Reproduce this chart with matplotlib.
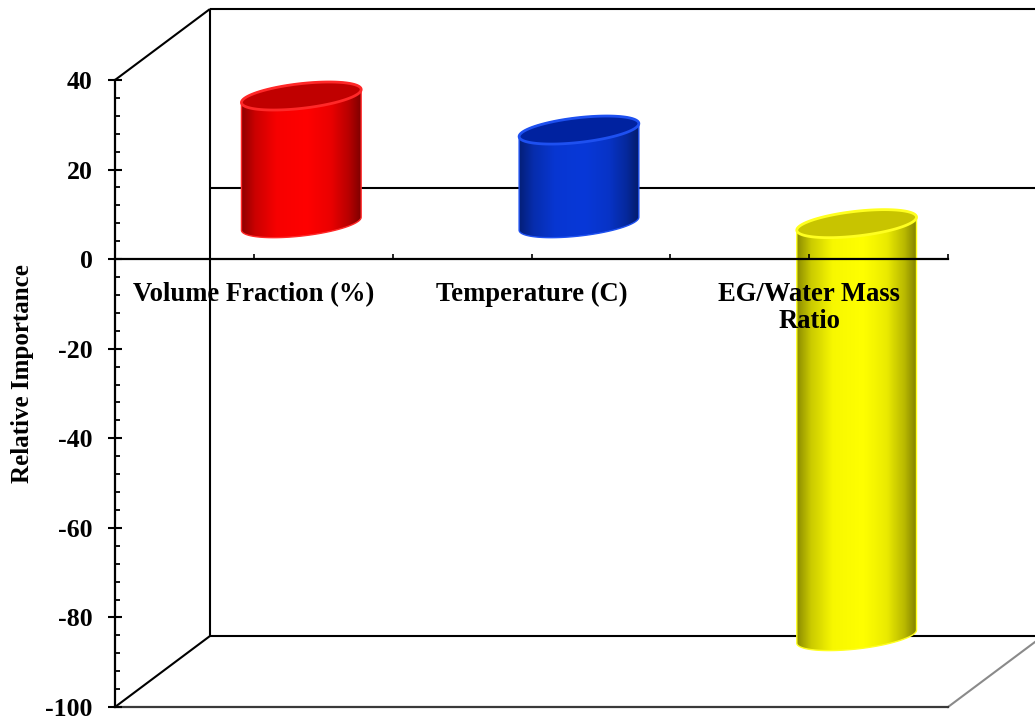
import numpy as np
import matplotlib
matplotlib.use("Agg")
import matplotlib.pyplot as plt
from matplotlib.patches import Polygon
from matplotlib.colors import LinearSegmentedColormap, to_rgb
from matplotlib.ticker import MultipleLocator

# ---- data -------------------------------------------------------------
factors = ["Volume Fraction (%)", "Temperature (C)", "EG/Water Mass\nRatio"]
importance = [28.5, 20.9, -92.2]
body_colors = ["#FF0000", "#0838D8", "#FFFF00"]
cap_colors = ["#C00000", "#0022A0", "#C8C400"]
rim_colors = ["#FF2828", "#1E50F0", "#FFFF20"]
y_major = [-100, -80, -60, -40, -20, 0, 20, 40]

# ---- figure -----------------------------------------------------------
plt.rcParams["font.family"] = ["Liberation Serif", "DejaVu Serif"]
plt.rcParams["font.weight"] = "bold"
plt.rcParams["axes.unicode_minus"] = False

W, H = 1035, 717
fig = plt.figure(figsize=(W / 100, H / 100), dpi=100)
ax = fig.add_axes([115 / W, 10 / H, 833 / W, 627 / H])
ax.set_xlim(0, 3)
ax.set_ylim(-100, 40)
ax.patch.set_alpha(0)

# depth of the 3-D box, in data units (x: categories, y: value)
DX, DY = 0.342, 15.85
YMIN, YMAX = -100, 40
XMAX = 3

# ---- walls / floor ----------------------------------------------------
wall = dict(color="black", lw=1.5, clip_on=False, zorder=1, solid_capstyle="butt")
ax.plot([0, DX], [YMAX, YMAX + DY], **wall)
ax.plot([DX, XMAX + DX + 1], [YMAX + DY, YMAX + DY], **wall)
ax.plot([0, DX], [YMIN, YMIN + DY], **wall)
ax.plot([DX, XMAX + DX + 1], [YMIN + DY, YMIN + DY], **wall)
ax.plot([DX, XMAX + DX + 1], [DY, DY], **wall)
ax.plot([DX, DX], [YMIN + DY, YMAX + DY], **{**wall, "zorder": 4})
ax.plot([XMAX, XMAX + DX], [YMIN, YMIN + DY], color="#8a8a8a", lw=1.5,
        clip_on=False, zorder=1)
ax.plot([0, XMAX], [YMIN, YMIN], color="#3a3a3a", lw=1.6, clip_on=False, zorder=1)

# ---- cylinders --------------------------------------------------------
R = 0.191          # radius across the category axis
KX = 0.100         # horizontal lean of the end ellipse
HY = 3.13          # vertical half-height of the end ellipse
t0 = np.arctan2(KX, R)
ext = np.hypot(R, KX)

profile_pos = [0.0, 0.12, 0.3, 0.55, 0.75, 0.9, 1.0]
profile_val = [0.55, 0.8, 0.97, 1.0, 0.92, 0.72, 0.5]


def ring(cx, cy, t):
    return np.column_stack([cx + R * np.cos(t) + KX * np.sin(t),
                            cy + HY * np.sin(t)])


for i, (val, bc, cc, rc) in enumerate(zip(importance, body_colors,
                                          cap_colors, rim_colors)):
    cx = i + 0.5 + DX / 2
    lo = min(0, val) + DY / 2
    hi = max(0, val) + DY / 2

    back = ring(cx, hi, np.linspace(t0, t0 + np.pi, 80))
    front = ring(cx, lo, np.linspace(t0 + np.pi, t0 + 2 * np.pi, 80))
    body = Polygon(np.vstack([back, front]), closed=True, facecolor="none",
                   edgecolor=rc, lw=1.0, zorder=2.05)
    ax.add_patch(body)

    base = np.array(to_rgb(bc))
    cmap = LinearSegmentedColormap.from_list(
        f"shade{i}", [(p, tuple(base * v)) for p, v in zip(profile_pos, profile_val)])
    grad = np.linspace(0, 1, 256).reshape(1, -1)
    im = ax.imshow(grad, cmap=cmap, aspect="auto", interpolation="bilinear",
                   extent=[cx - ext, cx + ext, lo - HY - 1, hi + HY + 1],
                   zorder=2)
    im.set_clip_path(body)

    cap = Polygon(ring(cx, hi, np.linspace(0, 2 * np.pi, 160)), closed=True,
                  facecolor=cc, edgecolor=rc, lw=2.0, zorder=2.1)
    ax.add_patch(cap)

ax.set_xlim(0, 3)
ax.set_ylim(-100, 40)

# ---- axes -------------------------------------------------------------
ax.set_axisbelow(False)
ax.xaxis.set_zorder(3)
ax.yaxis.set_zorder(3)
for s in ("top", "right"):
    ax.spines[s].set_visible(False)
ax.spines["left"].set_linewidth(1.6)
ax.spines["bottom"].set_position(("data", 0))
ax.spines["bottom"].set_linewidth(1.6)
for s in ax.spines.values():
    s.set_zorder(3)

ax.set_yticks(y_major)
ax.yaxis.set_minor_locator(MultipleLocator(4))
ax.tick_params(axis="y", which="major", direction="inout", length=9.5,
               width=1.5, pad=11.5, labelsize=18.5)
ax.tick_params(axis="y", which="minor", direction="in", length=3.6, width=1.3)

ax.set_xticks([0.5, 1.5, 2.5], factors)
ax.set_xticks([1, 2, 3], minor=True)
ax.tick_params(axis="x", which="both", direction="in", length=3.6, width=1.2,
               pad=16.5, labelsize=19.2)
for lab in ax.get_xticklabels():
    lab.set_linespacing(1.12)
    lab.set_fontweight("bold")
for lab in ax.get_yticklabels():
    lab.set_fontweight("bold")

fig.text(23 / W, 1 - 374 / H, "Relative Importance", rotation=90,
         ha="center", va="center", fontsize=18, fontweight="bold")

fig.savefig("out.png", dpi=100)
